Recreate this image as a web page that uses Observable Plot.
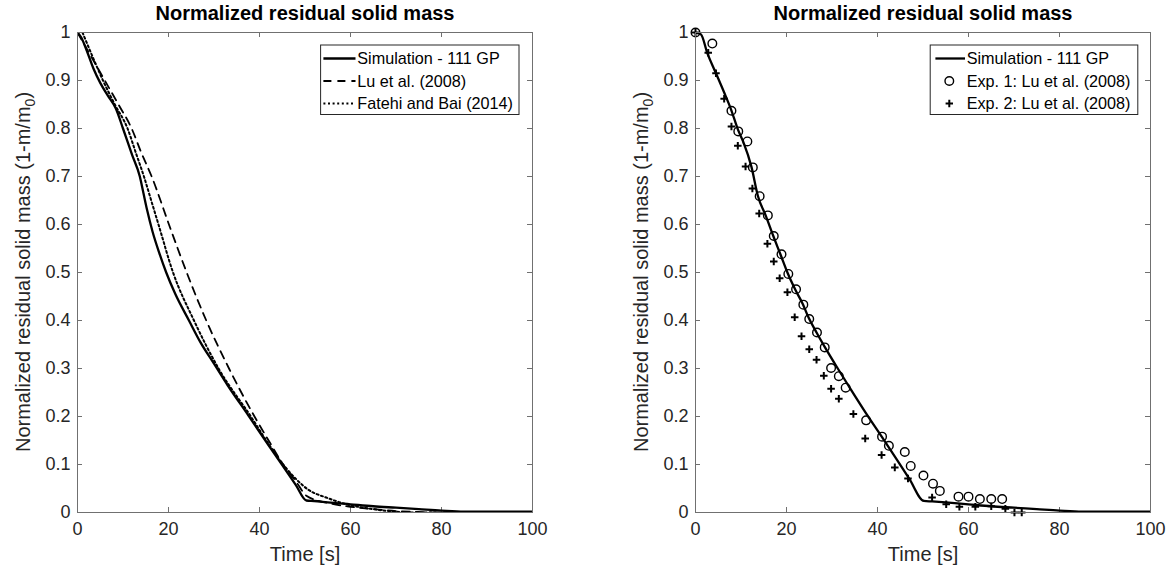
<!DOCTYPE html>
<html><head><meta charset="utf-8">
<script src="https://cdn.jsdelivr.net/npm/d3@7"></script>
<script src="https://cdn.jsdelivr.net/npm/@observablehq/plot@0.6"></script>
<style>
html,body{margin:0;padding:0;background:#fff;}
#wrap{position:relative;width:1166px;height:565px;overflow:hidden;background:#fff;}
#wrap svg{position:absolute;top:0;}
</style></head><body><div id="wrap"></div>
<script>
// ---- tick values & text ----
const xTicks = [0, 20, 40, 60, 80, 100];
const yTicks = [0, 0.1, 0.2, 0.3, 0.4, 0.5, 0.6, 0.7, 0.8, 0.9, 1];
const titleText = "Normalized residual solid mass";
const xLabel = "Time [s]";
const yLabelMain = "Normalized residual solid mass (1-m/m";
const yLabelSub = "0";
const yLabelEnd = ")";
const leftLegend = ["Simulation - 111 GP", "Lu et al. (2008)", "Fatehi and Bai (2014)"];
const rightLegend = ["Simulation - 111 GP", "Exp. 1: Lu et al. (2008)", "Exp. 2: Lu et al. (2008)"];

// ---- Simulation - 111 GP (left panel, as read) ----
const simT = [0, 0.8, 2, 3.5, 5, 6.7, 8.4, 10, 12, 13.7, 14.5, 15.3, 16.5, 18, 19.5, 21.5, 24.5, 27, 30, 33, 37.5, 42, 45, 48, 50.3, 52, 55, 60, 65, 70, 75, 80, 85, 100];
const simV = [1.0, 0.99, 0.963, 0.925, 0.895, 0.868, 0.842, 0.8, 0.745, 0.7, 0.665, 0.63, 0.585, 0.54, 0.5, 0.455, 0.4, 0.355, 0.31, 0.265, 0.203, 0.14, 0.099, 0.057, 0.025, 0.024, 0.021, 0.017, 0.013, 0.01, 0.007, 0.004, 0.002, 0.002];

// ---- Simulation - 111 GP (right panel, as read) ----
const simRT = [0, 1.2, 2.6, 4.5, 6.3, 7.8, 9.4, 10.5, 12.3, 13.7, 15.5, 17.1, 18.7, 20.2, 22, 23.6, 24.9, 26.6, 28.4, 31.2, 33.7, 37.6, 41, 44, 47, 50.2, 52, 55, 60, 65, 70, 75, 80, 85, 100];
const simRV = [1.0, 0.996, 0.957, 0.915, 0.875, 0.84, 0.796, 0.772, 0.72, 0.66, 0.617, 0.576, 0.537, 0.5, 0.463, 0.434, 0.405, 0.375, 0.345, 0.301, 0.263, 0.205, 0.157, 0.114, 0.07, 0.024, 0.023, 0.021, 0.017, 0.013, 0.01, 0.007, 0.004, 0.002, 0.002];

// ---- Lu et al. (2008) model ----
const luT = [0, 3, 6, 9, 11.9, 14, 16.3, 20.1, 24, 28.3, 33.3, 38.9, 42, 45.2, 48, 50.3, 55, 60, 65, 70, 75, 80, 84];
const luV = [1.0, 0.95, 0.9, 0.85, 0.8, 0.75, 0.7, 0.6, 0.5, 0.4, 0.3, 0.2, 0.15, 0.1, 0.065, 0.035, 0.02, 0.012, 0.007, 0.003, 0.001, 0, 0];

// ---- Fatehi and Bai (2014) ----
const fbT = [1.1, 3.3, 5.6, 8.2, 11, 12.8, 14.6, 16.2, 17.8, 21, 25.6, 31, 38.1, 41.5, 45.2, 48, 50.5, 55, 60, 65, 69.5, 75, 83];
const fbV = [1.0, 0.95, 0.9, 0.85, 0.8, 0.75, 0.7, 0.65, 0.6, 0.5, 0.4, 0.3, 0.2, 0.15, 0.1, 0.07, 0.049, 0.03, 0.015, 0.007, 0.002, 0, 0];

// ---- Exp. 1: Lu et al. (2008) ----
const exp1T = [0, 3.7, 7.9, 9.4, 11.4, 12.6, 14.1, 15.9, 17.2, 18.9, 20.4, 22.1, 23.7, 25.0, 26.7, 28.4, 29.8, 31.5, 33.0, 37.5, 41.0, 42.5, 46.0, 47.3, 50.1, 52.2, 53.7, 57.8, 60.0, 62.5, 65.0, 67.4];
const exp1V = [1.0, 0.977, 0.837, 0.794, 0.773, 0.719, 0.659, 0.619, 0.576, 0.538, 0.497, 0.465, 0.433, 0.403, 0.375, 0.344, 0.301, 0.284, 0.260, 0.192, 0.158, 0.139, 0.126, 0.097, 0.077, 0.060, 0.045, 0.033, 0.033, 0.028, 0.028, 0.028];

// ---- Exp. 2: Lu et al. (2008) ----
const exp2T = [0, 2.8, 4.5, 6.3, 7.9, 9.3, 11.0, 12.5, 14.0, 15.8, 17.2, 18.5, 20.2, 21.8, 23.3, 25.0, 26.6, 28.2, 29.8, 31.5, 34.7, 37.3, 40.9, 43.8, 46.7, 52.0, 55.1, 58.0, 61.5, 65.0, 68.1, 70.1, 71.7];
const exp2V = [1.0, 0.958, 0.915, 0.862, 0.804, 0.764, 0.721, 0.675, 0.623, 0.560, 0.523, 0.488, 0.459, 0.407, 0.367, 0.340, 0.318, 0.285, 0.258, 0.237, 0.205, 0.154, 0.120, 0.094, 0.071, 0.031, 0.017, 0.012, 0.012, 0.013, 0.008, 0, 0];

const toRows = (T, V) => T.map((t, i) => ({t, v: V[i]}));
const FONT = "'Liberation Sans', Arial, Helvetica, sans-serif";
const AX = "#262626";
const FRAME = "#707070";
const W = 583, H = 565, MT = 32, MB = 53;
const FW = 455, FH = 480;
const DASH = "8,6", DOT = "2,2.6";

function panel(ml, mr, seriesMarks) {
  return Plot.plot({
    width: W, height: H, marginTop: MT, marginBottom: MB, marginLeft: ml, marginRight: mr,
    x: {domain: [0, 100]},
    y: {domain: [0, 1]},
    style: {fontFamily: FONT, fontSize: "18px", color: AX, background: "white", overflow: "visible"},
    marks: [
      Plot.tickX(xTicks, {x: d => d, insetTop: FH - 5, stroke: FRAME}),
      Plot.tickX(xTicks, {x: d => d, insetBottom: FH - 5, stroke: FRAME}),
      Plot.tickY(yTicks, {y: d => d, insetRight: FW - 5, stroke: FRAME}),
      Plot.tickY(yTicks, {y: d => d, insetLeft: FW - 5, stroke: FRAME}),
      Plot.axisX({ticks: xTicks, tickSize: 0, tickPadding: 10, label: null, fill: AX}),
      Plot.axisY({ticks: yTicks, tickSize: 0, tickPadding: 7, label: null, fill: AX, tickFormat: d3.format("~g")}),
      ...seriesMarks,
      Plot.frame({stroke: FRAME, strokeWidth: 1}),
      Plot.text([titleText], {text: d => d, frameAnchor: "top", dy: -19, fontWeight: "bold", fontSize: 20, fill: "#000", lineAnchor: "middle"}),
      Plot.text([xLabel], {text: d => d, frameAnchor: "bottom", dy: 42, fontSize: 20, fill: AX, lineAnchor: "middle"})
    ]
  });
}

function addYLabel(svgEl, ml) {
  const svg = d3.select(svgEl);
  const t = svg.append("text")
    .attr("transform", `translate(${ml - 47},${MT + FH / 2}) rotate(-90)`)
    .attr("text-anchor", "middle")
    .attr("font-family", FONT)
    .attr("font-size", 20)
    .attr("fill", AX);
  t.append("tspan").text(yLabelMain);
  t.append("tspan").attr("font-size", 14).attr("dy", 5).text(yLabelSub);
  t.append("tspan").attr("dy", -5).text(yLabelEnd);
}

function addLegend(svgEl, box, items) {
  const svg = d3.select(svgEl);
  const g = svg.append("g").attr("font-family", FONT).attr("font-size", 16.2).attr("text-anchor", "start");
  g.append("rect").attr("x", box.x).attr("y", box.y).attr("width", box.w).attr("height", box.h)
    .attr("fill", "white").attr("stroke", "#262626").attr("stroke-width", 1);
  items.forEach((it, i) => {
    const y = box.rows[i];
    if (it.kind === "line") {
      g.append("line").attr("x1", box.lx1).attr("x2", box.lx2).attr("y1", y).attr("y2", y)
        .attr("stroke", "black").attr("stroke-width", it.width).attr("stroke-dasharray", it.dash || null);
    } else if (it.kind === "circle") {
      g.append("circle").attr("cx", box.mx).attr("cy", y).attr("r", 4.3)
        .attr("fill", "none").attr("stroke", "black").attr("stroke-width", 1.4);
    } else if (it.kind === "plus") {
      g.append("path").attr("d", `M${box.mx - 3.7},${y}H${box.mx + 3.7}M${box.mx},${y - 3.7}V${y + 3.7}`)
        .attr("stroke", "black").attr("stroke-width", 2).attr("fill", "none");
    }
    g.append("text").attr("x", box.tx).attr("y", y).attr("dy", "0.35em").attr("text-anchor", "start").attr("fill", "#000").text(it.label);
  });
}

// Left panel
const leftPlot = panel(77, 51, [
  Plot.line(toRows(fbT, fbV), {x: "t", y: "v", stroke: "black", strokeWidth: 2, strokeDasharray: DOT, curve: "monotone-x", clip: true}),
  Plot.line(toRows(luT, luV), {x: "t", y: "v", stroke: "black", strokeWidth: 1.8, strokeDasharray: DASH, curve: "monotone-x", clip: true}),
  Plot.line(toRows(simT, simV), {x: "t", y: "v", stroke: "black", strokeWidth: 2.3, curve: "monotone-x", clip: true})
]);
leftPlot.style.left = "0px";
addYLabel(leftPlot, 77);
addLegend(leftPlot, {x: 320.6, y: 45, w: 198.4, h: 69.5, rows: [58.5, 81, 103.5], lx1: 323.4, lx2: 355.5, tx: 357.3},
  [{kind: "line", width: 2.3, label: leftLegend[0]},
   {kind: "line", width: 1.8, dash: DASH, label: leftLegend[1]},
   {kind: "line", width: 2, dash: DOT, label: leftLegend[2]}]);

// Right panel
const rightPlot = panel(112, 16, [
  Plot.line(toRows(simRT, simRV), {x: "t", y: "v", stroke: "black", strokeWidth: 2.3, curve: "monotone-x", clip: true}),
  Plot.dot(toRows(exp1T, exp1V), {x: "t", y: "v", r: 4.3, stroke: "black", strokeWidth: 1.4, fill: "none"}),
  Plot.dot(toRows(exp2T, exp2V), {x: "t", y: "v", r: 2.55, symbol: "plus", stroke: "black", strokeWidth: 2})
]);
rightPlot.style.left = "583px";
addYLabel(rightPlot, 112);
addLegend(rightPlot, {x: 347.2, y: 45, w: 207.6, h: 69.5, rows: [58.5, 81, 103.5], lx1: 352.4, lx2: 382, mx: 366.3, tx: 383.7},
  [{kind: "line", width: 2.3, label: rightLegend[0]},
   {kind: "circle", label: rightLegend[1]},
   {kind: "plus", label: rightLegend[2]}]);

document.getElementById("wrap").append(leftPlot, rightPlot);
</script>
</body></html>
